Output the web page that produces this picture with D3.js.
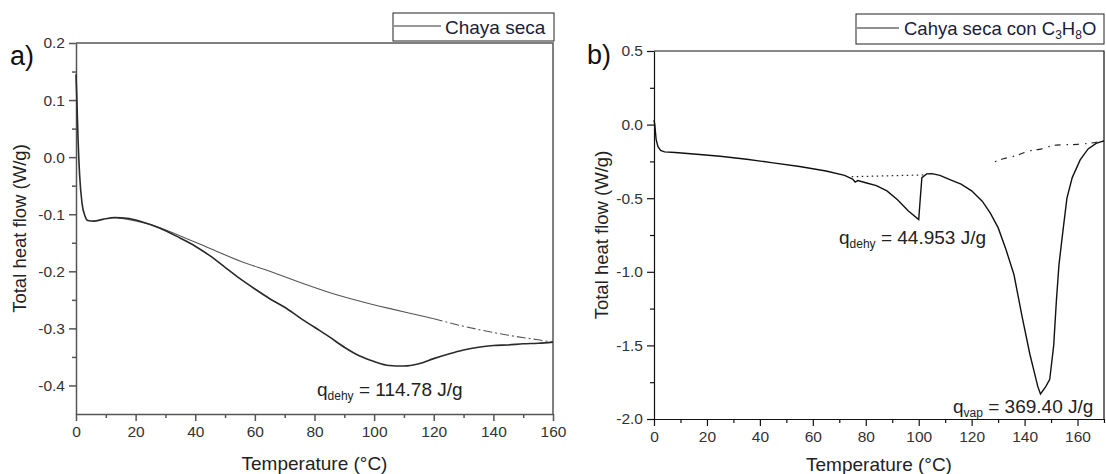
<!DOCTYPE html>
<html>
<head>
<meta charset="utf-8">
<style>
  body { margin: 0; background: #fff; }
  svg { font-family: Arial, "Liberation Sans", sans-serif; }
  .tick text { fill: #333; }
  .axis-a .domain, .axis-a .tick line { stroke: #555; stroke-width: 1.5px; }
  .axis-b .domain, .axis-b .tick line { stroke: #111; stroke-width: 1.2px; }
</style>
<script src="https://d3js.org/d3.v7.min.js"></script>
</head>
<body>
<svg width="1106" height="474"></svg>
<script>
// ---- panel a: Chaya seca ----
var aTemp = [0, 0.3, 0.7, 1.2, 2, 3, 4, 6, 9, 13, 17, 22, 28, 35, 40, 45, 50, 55, 60, 65, 70, 75, 80, 85, 90, 95, 100, 105, 110, 115, 120, 125, 130, 135, 140, 145, 150, 155, 160];
var aFlow = [0.145, 0.1, 0.03, -0.03, -0.08, -0.103, -0.111, -0.112, -0.109, -0.106, -0.107, -0.113, -0.124, -0.142, -0.156, -0.173, -0.193, -0.213, -0.231, -0.248, -0.263, -0.281, -0.298, -0.315, -0.333, -0.348, -0.358, -0.365, -0.366, -0.362, -0.353, -0.345, -0.338, -0.333, -0.330, -0.329, -0.327, -0.326, -0.324];
var aBaseTemp = [14, 25, 35, 45, 55, 65, 75, 85, 95, 105, 115, 120, 125, 135, 145, 155, 160];
var aBaseFlow = [-0.106, -0.118, -0.138, -0.160, -0.182, -0.200, -0.219, -0.237, -0.252, -0.265, -0.277, -0.283, -0.290, -0.302, -0.312, -0.320, -0.324];
var aXTicks = [0, 20, 40, 60, 80, 100, 120, 140, 160];
var aXMinor = [10, 30, 50, 70, 90, 110, 130, 150];
var aYTicks = [-0.4, -0.3, -0.2, -0.1, 0, 0.1, 0.2];
var aYMinor = [-0.35, -0.25, -0.15, -0.05, 0.05, 0.15];

// ---- panel b: Cahya seca con C3H8O ----
var bTemp = [0, 0.3, 0.8, 1.5, 2.5, 4, 8, 15, 25, 35, 45, 55, 65, 72, 75, 76, 77, 80, 84, 88, 92, 96, 100, 100.6, 101.2, 103, 105, 108, 112, 116, 120, 124, 127, 130, 133, 136, 139, 142, 145, 146, 148, 149.5, 151, 152, 153, 154.5, 156, 158, 161, 164, 167, 170];
var bFlow = [0.03, 0.0, -0.1, -0.15, -0.175, -0.185, -0.19, -0.2, -0.215, -0.235, -0.26, -0.285, -0.315, -0.345, -0.37, -0.39, -0.38, -0.395, -0.415, -0.45, -0.51, -0.585, -0.645, -0.5, -0.36, -0.335, -0.333, -0.345, -0.375, -0.405, -0.45, -0.52, -0.6, -0.7, -0.85, -1.02, -1.3, -1.56, -1.78, -1.83, -1.78, -1.73, -1.5, -1.2, -0.95, -0.72, -0.5, -0.36, -0.24, -0.165, -0.128, -0.11];
var bBase1Temp = [74.7, 101.7];
var bBase1Flow = [-0.354, -0.342];
var bBase2Temp = [128.8, 132, 137, 142, 145.5, 152, 160, 164, 167, 170];
var bBase2Flow = [-0.252, -0.232, -0.21, -0.177, -0.168, -0.139, -0.134, -0.128, -0.12, -0.11];
var bXTicks = [0, 20, 40, 60, 80, 100, 120, 140, 160];
var bXMinor = [10, 30, 50, 70, 90, 110, 130, 150, 170];
var bYTicks = [-2.0, -1.5, -1.0, -0.5, 0.0, 0.5];
var bYMinor = [-1.75, -1.25, -0.75, -0.25, 0.25];

var svg = d3.select("svg");

function zip(xs, ys) { return xs.map(function(x, i) { return [x, ys[i]]; }); }

function drawPanel(p) {
  var x = d3.scaleLinear().domain(p.xDomain).range([p.left, p.right]);
  var y = d3.scaleLinear().domain(p.yDomain).range([p.bottom, p.top]);
  var g = svg.append("g").attr("class", p.cls);
  var fmt = function(d) { return d.toFixed(p.yDigits); };

  // frame (top and right)
  g.append("path")
    .attr("d", "M" + p.left + "," + p.top + "H" + p.right + "V" + p.bottom)
    .attr("fill", "none")
    .attr("stroke", p.frameColor)
    .attr("stroke-width", p.frameWidth);

  // minor ticks
  g.append("g").attr("transform", "translate(0," + p.bottom + ")")
    .call(d3.axisBottom(x).tickValues(p.xMinor).tickSize(4).tickFormat(""))
    .select(".domain").remove();
  g.append("g").attr("transform", "translate(" + p.left + ",0)")
    .call(d3.axisLeft(y).tickValues(p.yMinor).tickSize(4).tickFormat(""))
    .select(".domain").remove();

  var xa = g.append("g").attr("transform", "translate(0," + p.bottom + ")")
    .call(d3.axisBottom(x).tickValues(p.xTicks).tickSize(7).tickSizeOuter(0).tickPadding(5));
  xa.selectAll("text").attr("font-size", 15.5);
  var ya = g.append("g").attr("transform", "translate(" + p.left + ",0)")
    .call(d3.axisLeft(y).tickValues(p.yTicks).tickSize(7).tickSizeOuter(0).tickPadding(4).tickFormat(fmt));
  ya.selectAll("text").attr("font-size", 15.5);

  // axis titles
  g.append("text")
    .attr("x", (p.left + p.right) / 2).attr("y", p.xTitleY)
    .attr("text-anchor", "middle").attr("font-size", 19).attr("fill", "#222")
    .text("Temperature (°C)");
  g.append("text")
    .attr("transform", "translate(" + p.yTitleX + "," + ((p.top + p.bottom) / 2) + ") rotate(-90)")
    .attr("text-anchor", "middle").attr("font-size", 18.5).attr("fill", "#222")
    .text("Total heat flow (W/g)");

  // panel letter
  g.append("text").attr("x", p.letterX).attr("y", p.letterY)
    .attr("font-size", 27).attr("fill", "#111").text(p.letter);

  return { x: x, y: y, g: g };
}

var line = function(sx, sy) {
  return d3.line().x(function(d) { return sx(d[0]); }).y(function(d) { return sy(d[1]); })
    .curve(d3.curveMonotoneX);
};

// ---------- panel a ----------
var A = drawPanel({
  cls: "axis-a", left: 76, right: 553, top: 43, bottom: 414,
  xDomain: [0, 160], yDomain: [-0.45, 0.2], yDigits: 1,
  xTicks: aXTicks, xMinor: aXMinor, yTicks: aYTicks, yMinor: aYMinor,
  frameColor: "#555", frameWidth: 1.5,
  xTitleY: 470, yTitleX: 26, letter: "a)", letterX: 10, letterY: 65
});
var la = line(A.x, A.y);
var aBase = zip(aBaseTemp, aBaseFlow);
A.g.append("path").datum(aBase.filter(function(d) { return d[0] <= 120; }))
  .attr("d", la).attr("fill", "none").attr("stroke", "#555").attr("stroke-width", 1.1);
A.g.append("path").datum(aBase.filter(function(d) { return d[0] >= 120; }))
  .attr("d", la).attr("fill", "none").attr("stroke", "#555").attr("stroke-width", 1.1)
  .attr("stroke-dasharray", "9,3,2,3");
A.g.append("path").datum(zip(aTemp, aFlow))
  .attr("d", la).attr("fill", "none").attr("stroke", "#2a2a2a").attr("stroke-width", 1.6);

// legend a
A.g.append("rect").attr("x", 393).attr("y", 13).attr("width", 161).attr("height", 28)
  .attr("fill", "#fff").attr("stroke", "#222").attr("stroke-width", 1);
A.g.append("line").attr("x1", 394).attr("x2", 441).attr("y1", 26).attr("y2", 26)
  .attr("stroke", "#333").attr("stroke-width", 1.2);
A.g.append("text").attr("x", 445).attr("y", 33.5).attr("font-size", 19).attr("fill", "#1c1c38")
  .text("Chaya seca");

// annotation a
var ta = A.g.append("text").attr("x", 317).attr("y", 396).attr("font-size", 19).attr("fill", "#222");
ta.append("tspan").text("q");
ta.append("tspan").attr("font-size", 12).attr("dy", 4).text("dehy");
ta.append("tspan").attr("dy", -4).text(" = 114.78 J/g");

// ---------- panel b ----------
var B = drawPanel({
  cls: "axis-b", left: 654, right: 1104, top: 51, bottom: 419,
  xDomain: [0, 170], yDomain: [-2.0, 0.5], yDigits: 1,
  xTicks: bXTicks, xMinor: bXMinor, yTicks: bYTicks, yMinor: bYMinor,
  frameColor: "#111", frameWidth: 1.2,
  xTitleY: 471, yTitleX: 608, letter: "b)", letterX: 587, letterY: 64
});
var lb = line(B.x, B.y);
B.g.append("path").datum(zip(bBase1Temp, bBase1Flow))
  .attr("d", lb).attr("fill", "none").attr("stroke", "#222").attr("stroke-width", 1.2)
  .attr("stroke-dasharray", "1.5,3.5");
B.g.append("path").datum(zip(bBase2Temp, bBase2Flow))
  .attr("d", lb).attr("fill", "none").attr("stroke", "#222").attr("stroke-width", 1.2)
  .attr("stroke-dasharray", "1.5,5,6,6");
B.g.append("path").datum(zip(bTemp, bFlow))
  .attr("d", d3.line().x(function(d) { return B.x(d[0]); }).y(function(d) { return B.y(d[1]); }))
  .attr("fill", "none").attr("stroke", "#111").attr("stroke-width", 1.4);

// legend b
B.g.append("rect").attr("x", 856).attr("y", 14).attr("width", 248).attr("height", 30)
  .attr("fill", "#fff").attr("stroke", "#222").attr("stroke-width", 1);
B.g.append("line").attr("x1", 857).attr("x2", 899).attr("y1", 28).attr("y2", 28)
  .attr("stroke", "#222").attr("stroke-width", 1.2);
var lt = B.g.append("text").attr("x", 904).attr("y", 35).attr("font-size", 18.5).attr("fill", "#1c1c38");
lt.append("tspan").text("Cahya seca con C");
lt.append("tspan").attr("font-size", 12).attr("dy", 4).text("3");
lt.append("tspan").attr("dy", -4).text("H");
lt.append("tspan").attr("font-size", 12).attr("dy", 4).text("8");
lt.append("tspan").attr("dy", -4).text("O");

// annotations b
var tb1 = B.g.append("text").attr("x", 839).attr("y", 244).attr("font-size", 19).attr("fill", "#222");
tb1.append("tspan").text("q");
tb1.append("tspan").attr("font-size", 12).attr("dy", 4).text("dehy");
tb1.append("tspan").attr("dy", -4).text(" = 44.953 J/g");
var tb2 = B.g.append("text").attr("x", 953).attr("y", 413).attr("font-size", 19).attr("fill", "#222");
tb2.append("tspan").text("q");
tb2.append("tspan").attr("font-size", 12).attr("dy", 4).text("vap");
tb2.append("tspan").attr("dy", -4).text(" = 369.40 J/g");
</script>
</body>
</html>
